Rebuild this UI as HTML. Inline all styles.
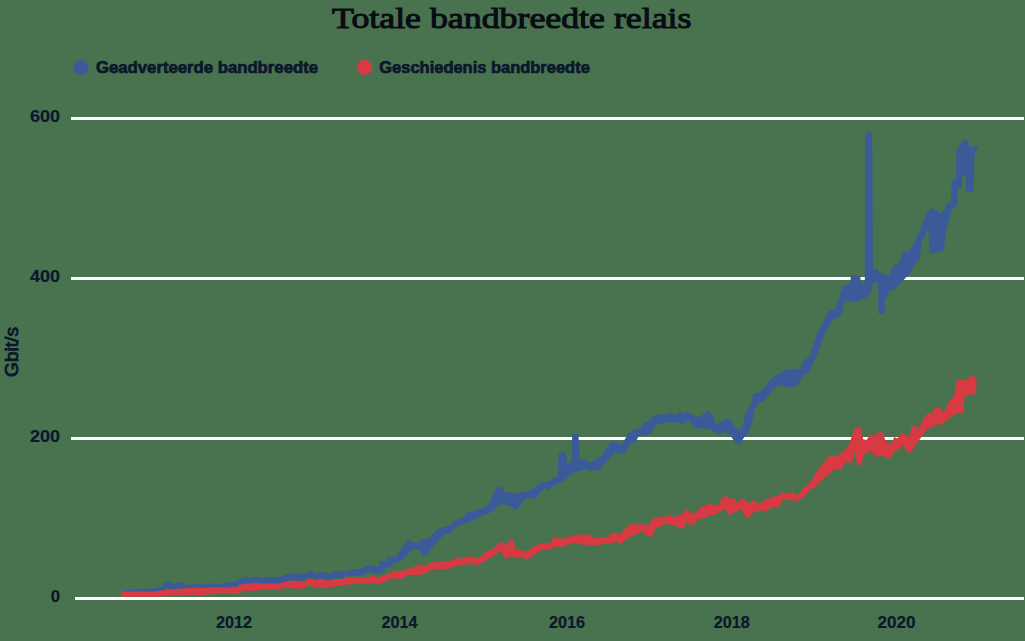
<!DOCTYPE html>
<html><head><meta charset="utf-8"><style>
html,body{margin:0;padding:0;background:#49724f;}
svg{display:block;}
text{font-family:"Liberation Sans",sans-serif;font-weight:bold;fill:#0b172c;stroke:#0b172c;stroke-width:0.2px;}
.lg{stroke-width:0.7px;}
.t{font-family:"Liberation Serif",serif;font-weight:normal;fill:#0a0c14;stroke:#0a0c14;stroke-width:1.05px;}
</style></head><body>
<svg width="1025" height="641" viewBox="0 0 1025 641">
<rect x="0" y="0" width="1025" height="641" fill="#49724f"/>
<text class="t" x="332" y="27.9" font-size="29.5" textLength="359.5" lengthAdjust="spacingAndGlyphs">Totale bandbreedte relais</text>
<circle cx="81" cy="67.5" r="7.6" fill="#3b5a9a"/>
<text class="lg" x="96" y="72.8" font-size="16.8" textLength="222" lengthAdjust="spacingAndGlyphs">Geadverteerde bandbreedte</text>
<circle cx="364.5" cy="67.4" r="7.6" fill="#d83a44"/>
<text class="lg" x="379.3" y="72.8" font-size="16.8" textLength="210.5" lengthAdjust="spacingAndGlyphs">Geschiedenis bandbreedte</text>
<g stroke="#ffffff" stroke-width="3.2">
<line x1="71" y1="118.5" x2="1024" y2="118.5"/>
<line x1="71" y1="278.5" x2="1024" y2="278.5"/>
<line x1="71" y1="438.5" x2="1024" y2="438.5"/>
<line x1="75" y1="598.5" x2="1024" y2="598.5"/>
</g>
<g font-size="16.8" text-anchor="end">
<text x="60" y="122.2" textLength="30" lengthAdjust="spacingAndGlyphs">600</text>
<text x="60" y="282.2" textLength="30" lengthAdjust="spacingAndGlyphs">400</text>
<text x="60" y="442.2" textLength="30" lengthAdjust="spacingAndGlyphs">200</text>
<text x="60" y="602.3">0</text>
</g>
<g font-size="16.8" text-anchor="middle">
<text x="234" y="628.2" textLength="36" lengthAdjust="spacingAndGlyphs">2012</text>
<text x="399.5" y="628.2" textLength="36" lengthAdjust="spacingAndGlyphs">2014</text>
<text x="567" y="628.2" textLength="36" lengthAdjust="spacingAndGlyphs">2016</text>
<text x="731.7" y="628.2" textLength="36" lengthAdjust="spacingAndGlyphs">2018</text>
<text x="896.4" y="628.2" textLength="38" lengthAdjust="spacingAndGlyphs">2020</text>
</g>
<text transform="translate(18.2,352) rotate(-90)" font-size="19" font-weight="normal" style="font-weight:normal;stroke-width:0.9px" text-anchor="middle" textLength="50" lengthAdjust="spacingAndGlyphs">Gbit/s</text>
<polygon points="122.0,590.5 127.7,590.0 139.4,589.5 161.8,587.6 164.0,583.0 165.7,581.2 169.6,581.2 173.5,584.6 177.4,582.2 181.3,582.2 185.2,585.1 193.0,584.6 199.9,583.2 202.8,585.6 208.7,583.2 210.0,582.9 212.9,584.4 216.8,582.9 220.7,584.9 226.6,582.4 236.3,582.0 239.3,579.0 245.1,577.1 251.0,578.5 255.9,576.1 260.7,578.5 264.6,577.1 278.3,577.1 283.2,576.1 288.0,573.2 291.0,573.2 294.9,574.6 297.8,573.2 300.7,573.2 303.7,574.6 306.6,571.2 310.0,571.0 312.7,570.9 315.6,573.8 319.5,572.3 324.4,572.3 327.3,573.3 332.2,573.3 335.0,570.9 339.0,570.9 341.0,572.8 343.0,571.1 348.8,571.1 351.7,568.9 358.5,568.9 362.4,567.9 368.3,565.5 374.1,565.5 376.0,567.0 378.0,567.0 380.0,561.1 385.9,561.1 387.8,556.7 395.6,556.7 397.5,554.3 401.2,548.7 406.2,542.4 410.0,539.3 413.7,542.4 417.5,543.1 421.2,539.3 426.2,538.7 431.2,536.2 435.0,531.2 440.0,528.1 446.2,526.2 450.0,525.6 453.7,521.2 460.0,518.7 465.0,515.6 468.7,511.2 472.4,511.9 477.4,509.4 484.9,507.5 489.9,502.5 494.2,490.4 498.4,486.2 502.6,488.3 506.2,493.2 509.7,491.8 514.6,493.9 519.5,492.5 526.5,491.1 532.1,489.7 536.3,486.2 542.0,482.0 549.0,481.3 553.2,477.8 557.4,477.0 558.8,452.5 565.8,452.5 567.2,463.0 571.5,463.0 572.2,434.2 578.5,434.2 579.9,459.5 585.5,459.5 590.0,463.0 595.0,459.9 602.5,454.9 607.5,446.2 611.2,441.2 617.5,443.1 621.2,444.9 623.7,441.2 628.7,432.5 632.4,430.6 636.2,428.7 640.0,428.7 643.7,423.1 648.7,421.2 654.9,414.4 659.9,414.4 666.1,414.4 671.1,412.5 674.9,415.6 679.9,411.2 682.5,413.7 687.5,411.2 692.5,415.0 698.7,417.4 703.7,413.7 708.1,410.6 712.5,415.0 715.0,423.7 720.0,423.1 725.0,419.3 731.2,420.0 734.9,427.4 740.0,430.6 742.4,426.2 746.2,411.2 749.9,406.2 753.7,393.7 759.9,392.5 763.6,388.7 767.4,383.1 773.6,376.9 775.6,375.5 781.2,372.7 785.0,369.9 790.6,369.9 794.3,368.0 800.0,369.9 803.7,360.5 809.3,356.8 813.1,345.5 816.8,334.3 820.6,326.8 824.3,319.3 830.0,310.0 835.5,310.0 839.3,296.9 843.0,285.6 846.8,284.7 850.0,283.9 851.0,275.3 855.0,275.3 856.0,276.3 860.2,276.3 861.2,283.4 864.8,283.4 865.2,134.5 866.3,132.2 870.8,132.2 872.2,134.5 872.9,269.2 878.0,269.2 878.5,273.3 884.6,273.3 885.0,275.3 889.6,275.3 890.0,273.5 893.0,265.4 898.9,263.1 901.9,252.8 909.3,251.3 913.7,243.9 916.7,237.2 921.1,227.6 925.6,214.3 930.0,209.1 933.0,208.3 937.4,211.3 940.4,213.5 944.8,209.1 947.0,203.1 951.2,202.7 951.7,180.0 956.0,180.0 956.4,149.5 961.9,141.7 963.4,140.2 968.1,140.2 969.7,148.0 972.0,146.4 977.5,146.4 977.5,148.8 974.4,155.0 973.6,191.7 966.0,191.7 965.8,175.3 962.0,175.3 961.9,187.8 957.8,188.6 957.2,205.0 952.0,209.0 950.0,218.0 947.8,224.6 945.6,231.3 944.8,242.4 942.6,251.3 937.4,251.3 935.9,252.8 929.3,252.8 928.5,228.3 925.6,235.0 921.9,240.9 919.6,260.2 917.0,261.0 914.0,266.0 910.0,274.0 905.0,278.5 900.0,284.0 897.0,287.0 895.0,289.5 889.6,290.5 885.0,300.6 884.6,313.8 878.5,313.8 878.0,282.4 872.9,282.4 871.0,292.5 865.3,298.6 861.2,298.6 860.2,301.1 855.0,301.7 850.0,301.7 844.9,300.6 841.2,314.6 837.4,317.5 831.8,321.2 826.2,330.6 822.4,339.9 819.6,349.3 815.0,358.7 809.3,371.8 803.7,375.5 798.0,384.9 790.6,387.7 781.2,385.8 778.6,385.0 772.4,390.0 766.1,399.3 759.9,402.5 754.9,408.7 752.4,420.0 748.7,432.4 743.7,438.0 740.0,444.3 736.2,443.7 729.9,434.9 723.7,431.8 718.7,433.7 715.0,432.4 710.0,428.7 705.0,428.1 698.7,428.7 695.0,427.4 688.7,421.2 682.0,425.0 678.6,421.2 673.6,423.1 667.4,421.8 659.9,424.3 654.9,425.0 651.2,433.7 644.9,435.6 638.7,436.2 635.0,443.1 630.0,443.1 626.2,451.8 620.0,454.3 615.0,453.1 610.0,458.7 605.0,463.0 601.2,469.3 592.5,471.2 585.0,468.7 581.3,470.7 574.3,472.1 568.7,476.3 563.0,482.0 554.6,484.8 549.0,490.4 544.8,487.6 539.2,493.9 535.0,499.5 529.3,497.4 523.7,500.2 519.5,506.5 515.3,510.0 509.7,505.8 505.4,505.1 501.2,503.7 495.6,508.0 489.9,513.1 482.4,515.6 474.9,519.4 467.4,523.1 457.4,526.2 451.2,531.8 442.4,536.2 437.4,541.8 430.0,549.9 427.5,555.6 422.5,555.6 418.7,549.9 411.2,549.9 407.5,554.9 402.5,559.3 397.0,562.4 393.7,562.6 391.7,567.4 385.9,567.4 384.0,572.8 380.0,572.8 378.0,574.3 374.0,574.3 372.2,572.3 368.3,572.3 362.0,575.2 346.8,576.2 343.0,578.1 341.0,579.8 339.0,577.9 335.0,577.9 332.2,580.3 327.3,580.3 324.4,579.3 319.5,579.3 315.6,580.8 312.7,577.9 310.0,578.0 306.6,578.2 303.7,581.6 300.7,580.2 297.8,580.2 294.9,581.6 291.0,580.2 288.0,580.2 283.2,583.1 278.3,584.1 264.6,584.1 260.7,585.5 255.9,583.1 251.0,585.5 245.1,584.1 239.3,586.0 236.3,589.0 226.6,589.4 220.7,591.9 216.8,589.9 212.9,591.4 210.0,589.9 208.7,590.2 202.8,592.6 199.9,590.2 193.0,591.6 185.2,592.1 181.3,589.2 177.4,589.2 173.5,591.6 169.6,588.2 165.7,588.2 164.0,590.0 161.8,594.6 139.4,595.8 127.7,595.8 122.0,596.0" fill="#3b5a9a"/>
<polygon points="121.0,591.0 124.8,591.5 156.0,591.5 157.0,591.0 164.8,590.0 173.5,589.0 183.3,588.5 193.0,587.6 200.9,588.0 207.7,587.6 214.5,587.0 230.5,587.8 233.4,586.3 236.3,587.3 239.3,584.4 244.0,584.4 245.0,583.4 280.0,583.4 284.0,582.0 288.0,581.0 292.0,581.0 293.0,580.0 297.8,582.0 300.7,581.0 303.9,581.6 309.8,578.2 314.6,580.1 322.4,579.1 327.3,581.1 334.0,579.1 343.0,579.1 345.0,577.2 368.3,577.2 371.2,576.0 374.1,576.0 378.0,577.2 383.0,575.7 387.8,573.8 393.7,570.9 398.5,570.9 402.5,570.5 411.2,568.0 420.0,564.3 426.2,565.5 431.2,562.4 448.7,561.2 453.7,559.3 457.4,557.4 462.4,558.7 467.4,556.2 472.4,556.8 477.4,558.7 482.4,554.9 488.6,549.9 493.9,548.3 499.8,542.4 503.7,542.4 506.6,544.9 510.5,539.0 513.4,540.0 515.4,549.3 521.2,550.2 527.1,551.7 531.0,548.3 535.9,545.4 540.7,543.4 549.5,542.9 554.4,537.4 560.2,537.6 562.2,539.0 566.1,537.4 572.9,535.6 577.8,534.1 581.7,535.6 588.9,534.1 592.8,537.2 596.7,538.2 602.6,536.7 607.4,537.2 611.3,533.3 618.2,533.3 620.6,534.3 624.0,529.4 628.0,526.5 630.9,523.0 634.8,525.5 639.6,523.0 643.5,524.5 648.4,525.0 652.3,519.1 655.2,517.7 660.1,516.2 664.0,517.2 668.9,514.8 672.8,516.7 676.7,516.2 681.6,514.3 685.9,509.4 689.8,511.3 692.7,514.3 696.6,512.3 701.5,506.5 705.4,506.0 709.3,502.6 713.2,505.0 717.1,505.5 721.0,499.6 724.9,496.2 727.8,496.7 729.8,499.1 733.7,498.2 737.6,503.0 742.4,498.2 747.3,501.6 749.3,503.5 753.2,500.1 757.1,503.0 762.0,502.6 765.9,499.1 769.8,498.2 773.7,496.2 779.5,495.2 781.6,492.3 788.3,493.6 792.2,491.6 797.5,495.6 802.9,489.0 808.2,483.7 812.1,479.7 817.4,469.7 824.1,462.4 830.7,454.5 836.0,457.1 840.0,453.2 844.0,451.2 849.3,443.9 853.2,431.9 857.2,426.0 861.2,428.0 863.2,439.2 866.5,439.9 870.5,433.9 874.1,436.4 878.1,432.4 883.2,432.4 885.2,440.5 888.2,443.5 891.3,443.5 894.3,436.9 897.4,438.4 901.4,432.4 906.5,435.4 909.5,436.9 911.6,426.3 916.6,426.3 918.6,429.3 922.7,419.7 926.8,414.1 932.0,413.1 934.2,408.7 937.5,406.5 940.8,408.2 942.9,412.0 946.2,408.7 949.5,400.0 953.9,397.2 956.8,380.0 960.4,379.2 963.7,380.3 967.0,380.3 969.2,377.0 971.3,375.9 974.0,375.9 975.7,378.1 976.5,380.0 976.3,392.3 974.6,394.5 968.1,394.5 964.2,397.8 963.7,413.1 958.2,413.1 955.0,414.2 950.6,416.9 946.2,420.7 941.8,425.1 937.5,424.0 933.1,427.3 927.8,428.8 923.7,433.4 919.7,439.5 914.6,446.6 911.6,452.6 907.5,452.6 902.4,445.5 899.4,448.6 894.3,451.6 891.3,458.2 887.2,458.2 881.1,455.2 876.1,457.2 870.0,450.1 867.8,453.2 863.9,454.5 861.2,465.8 857.2,465.1 854.6,452.0 851.9,462.4 845.3,462.4 841.3,470.4 837.3,468.4 832.0,471.1 828.0,475.7 821.4,480.3 814.8,487.6 809.5,490.3 804.2,496.9 797.5,500.9 789.6,500.2 783.0,499.6 779.5,507.0 773.7,507.0 769.8,508.4 765.9,512.3 762.0,509.9 757.1,511.3 752.2,513.3 748.3,518.7 745.4,517.2 740.5,508.9 734.6,512.3 729.8,515.2 724.9,508.9 719.0,512.3 714.1,515.2 709.3,515.7 703.4,518.2 697.6,519.1 694.6,524.0 689.8,525.0 686.8,521.0 684.9,527.9 679.6,528.4 674.8,525.5 670.9,525.0 666.0,523.5 661.1,526.0 655.2,528.4 652.3,536.7 648.4,536.2 643.5,532.8 640.6,531.3 636.7,534.3 631.8,536.2 628.0,538.2 624.0,541.6 620.1,544.5 616.2,541.6 612.3,543.0 604.5,544.0 598.7,545.0 590.9,545.5 586.6,544.4 581.7,544.9 575.9,542.4 570.0,543.9 565.1,545.4 560.2,547.3 555.4,546.3 551.5,549.3 540.7,550.2 533.9,555.6 527.1,559.5 522.2,557.6 515.4,557.1 509.5,556.6 505.6,559.5 501.7,552.2 499.8,551.2 492.4,556.8 484.9,561.2 477.4,565.5 469.9,563.0 464.9,564.9 454.9,566.2 448.7,568.7 432.5,569.3 423.7,574.3 417.5,574.9 407.5,574.9 402.5,578.7 399.5,579.1 393.7,578.2 387.8,580.6 383.0,582.6 378.0,583.8 354.6,583.8 350.7,584.5 343.9,585.0 334.1,586.5 326.3,588.4 324.4,587.4 314.6,587.4 311.7,586.0 307.8,586.0 304.0,587.9 301.0,588.8 296.0,588.8 295.0,588.3 284.0,588.3 282.2,589.8 260.7,589.8 258.8,590.7 241.0,590.7 240.2,594.1 232.4,594.1 231.5,593.7 214.5,593.9 207.7,594.4 200.9,595.4 193.0,594.4 183.3,595.4 173.5,595.6 164.8,596.3 157.0,596.8 124.8,596.8 121.0,597.1" fill="#d83a44"/>
</svg>
</body></html>
